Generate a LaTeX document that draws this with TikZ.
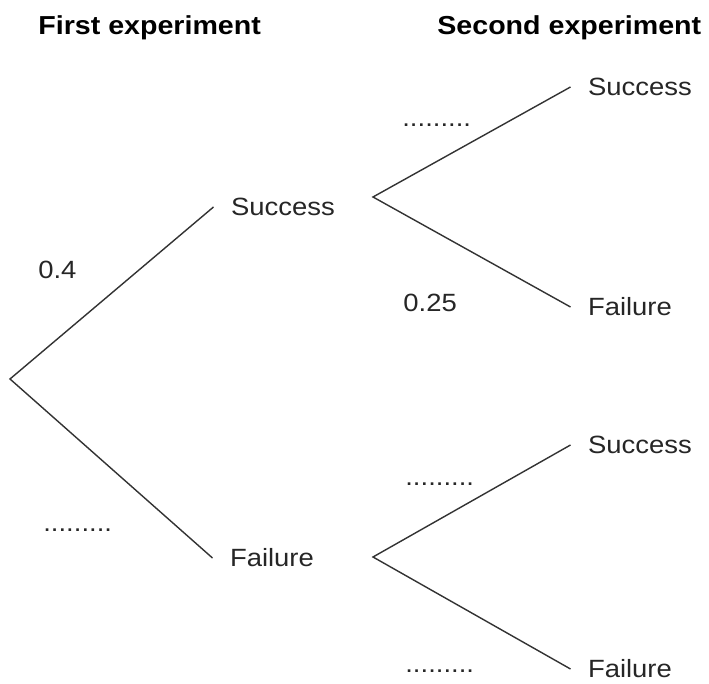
\documentclass[tikz,border=0pt]{standalone}
\usepackage{fontspec}
\setmainfont{Liberation Sans}[FakeStretch=1.1]
\tikzset{
  outcome/.style={inner sep=0pt,outer xsep=0.35cm,anchor=west,text=black!85,font=\fontsize{14.2}{17}\selectfont},
  prob/.style={inner sep=0pt,anchor=base west,text=black!85,font=\fontsize{14.2}{17}\selectfont},
  heading/.style={inner sep=0pt,anchor=base west,font=\fontsize{14.8}{18}\selectfont\bfseries},
  branch/.style={black!80,line width=0.8pt}
}
\begin{document}
\begin{tikzpicture}
  \useasboundingbox (0,0) rectangle (14.18,13.66);

  \node[heading] (h1) at (0.76,12.96) {First experiment};
  \node[heading] (h2) at (8.74,12.96) {Second experiment};

  \coordinate (root) at (0.2,6.08);
  \coordinate (fs1) at (7.46,9.72);
  \coordinate (ff1) at (7.46,2.52);

  \node[outcome] (s) at (4.27,9.52) {Success};
  \node[outcome] (f) at (4.25,2.5) {Failure};
  \node[outcome] (ss) at (11.41,11.92) {Success};
  \node[outcome] (sf) at (11.41,7.52) {Failure};
  \node[outcome] (fs) at (11.41,4.76) {Success};
  \node[outcome] (ff) at (11.41,0.28) {Failure};

  \draw[branch] (s.west) -- (root) -- (f.west);
  \draw[branch] (ss.west) -- (fs1) -- (sf.west);
  \draw[branch] (fs.west) -- (ff1) -- (ff.west);

  \node[prob] (p1) at (0.76,8.08) {0.4};
  \node[prob] (q1) at (0.86,3.02) {.........};
  \node[prob] (p2) at (8.04,11.12) {.........};
  \node[prob] (q2) at (8.06,7.42) {0.25};
  \node[prob] (p3) at (8.1,3.94) {.........};
  \node[prob] (q3) at (8.1,0.22) {.........};
\end{tikzpicture}
\end{document}
